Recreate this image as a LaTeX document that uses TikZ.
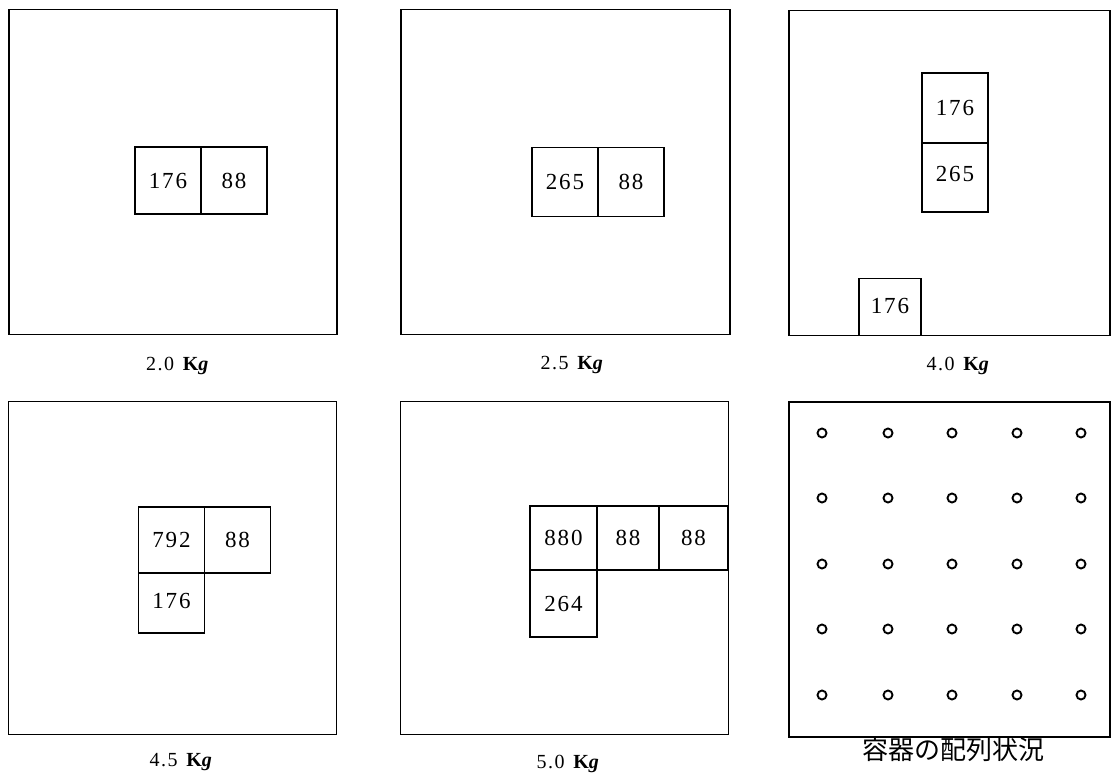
\documentclass[tikz,border=0pt]{standalone}
\usepackage{fontspec}
\setmainfont{Liberation Serif}
\newfontfamily\numfont{Liberation Serif}[LetterSpace=8]
\newfontfamily\jpfont{Noto Sans CJK JP}
\usetikzlibrary{positioning}

\begin{document}
\begin{tikzpicture}[x=1pt, y=-1pt,
      panel/.style={draw, rectangle, line width=1.8pt, minimum width=328pt,
                    minimum height=325pt, inner sep=0pt, outer sep=0pt},
      cell/.style={draw, rectangle, line width=1.6pt, minimum width=66pt,
                   minimum height=67pt, inner sep=0pt, outer sep=0pt,
                   font=\numfont\fontsize{23}{23}\selectfont},
      wlabel/.style={font=\numfont\fontsize{20}{20}\selectfont, inner sep=0pt},
      hole/.style={draw, circle, line width=1.9pt, minimum size=9pt,
                   inner sep=0pt},
      node distance=0pt,
    ]
      \useasboundingbox (0,0) rectangle (1111,773);
      \node[panel] (p1) at (173,172) {};
      \node[panel, minimum width=329pt] (p2) at (565.5,172) {};
      \node[panel, minimum width=321pt] (p3) at (949.5,173) {};
      \node[panel, minimum height=333pt] (p4) at (172.5,568) {};
      \node[panel, minimum height=333pt] (p5) at (564.5,568) {};
      \node[panel, minimum width=321pt, minimum height=335pt] (p6) at (949.5,569.5) {};
      \node[cell] (a1) at (168,180.5) {176};
      \node[cell, right=of a1] (a2) {88};
      \node[cell, minimum height=69pt] (b1) at (565,182) {265};
      \node[cell, minimum height=69pt, right=of b1] (b2) {88};
      \node[cell, minimum height=70pt] (c1) at (955,108) {176};
      \node[cell, minimum height=69pt, below=of c1] (c2) {\raisebox{8pt}{265}};
      \node[cell, anchor=south west, minimum width=62pt, minimum height=57pt]
            (c3) at ([xshift=70pt]p3.south west) {\raisebox{2pt}{176}};
      \node[cell, minimum height=66pt] (d1) at (171.5,540) {792};
      \node[cell, minimum height=66pt, right=of d1] (d2) {88};
      \node[cell, minimum height=60pt, below=of d1] (d3) {\raisebox{5pt}{176}};
      \node[cell, minimum width=67pt, minimum height=64pt] (e1) at (563.5,538) {880};
      \node[cell, minimum width=62pt, minimum height=64pt, right=of e1] (e2) {88};
      \node[cell, minimum width=69pt, minimum height=64pt, right=of e2] (e3) {88};
      \node[cell, minimum width=67pt, below=of e1] (e4) {264};
      \foreach \cx [count=\c] in {822,888,952,1017,1081}
        \foreach \cy [count=\r] in {433,498,564,629,695}
          \node[hole] (h\r\c) at (\cx,\cy) {};
      \node[wlabel, below=22pt of p1, xshift=5pt] (l1) {2.0\hspace{0.35em}\textbf{K\textit{g}}};
      \node[wlabel, below=22pt of p2, xshift=7pt] (l2) {2.5\hspace{0.35em}\textbf{K\textit{g}}};
      \node[wlabel, below=21pt of p3, xshift=9pt] (l3) {4.0\hspace{0.35em}\textbf{K\textit{g}}};
      \node[wlabel, below=19pt of p4, xshift=9pt] (l4) {4.5\hspace{0.35em}\textbf{K\textit{g}}};
      \node[wlabel, below=20pt of p5, xshift=4pt] (l5) {5.0\hspace{0.35em}\textbf{K\textit{g}}};
      \node[wlabel, font=\jpfont\fontsize{26}{26}\selectfont, below=0pt of p6,
            xshift=4pt] (l6) {容器の配列状況};
    \end{tikzpicture}
\end{document}
